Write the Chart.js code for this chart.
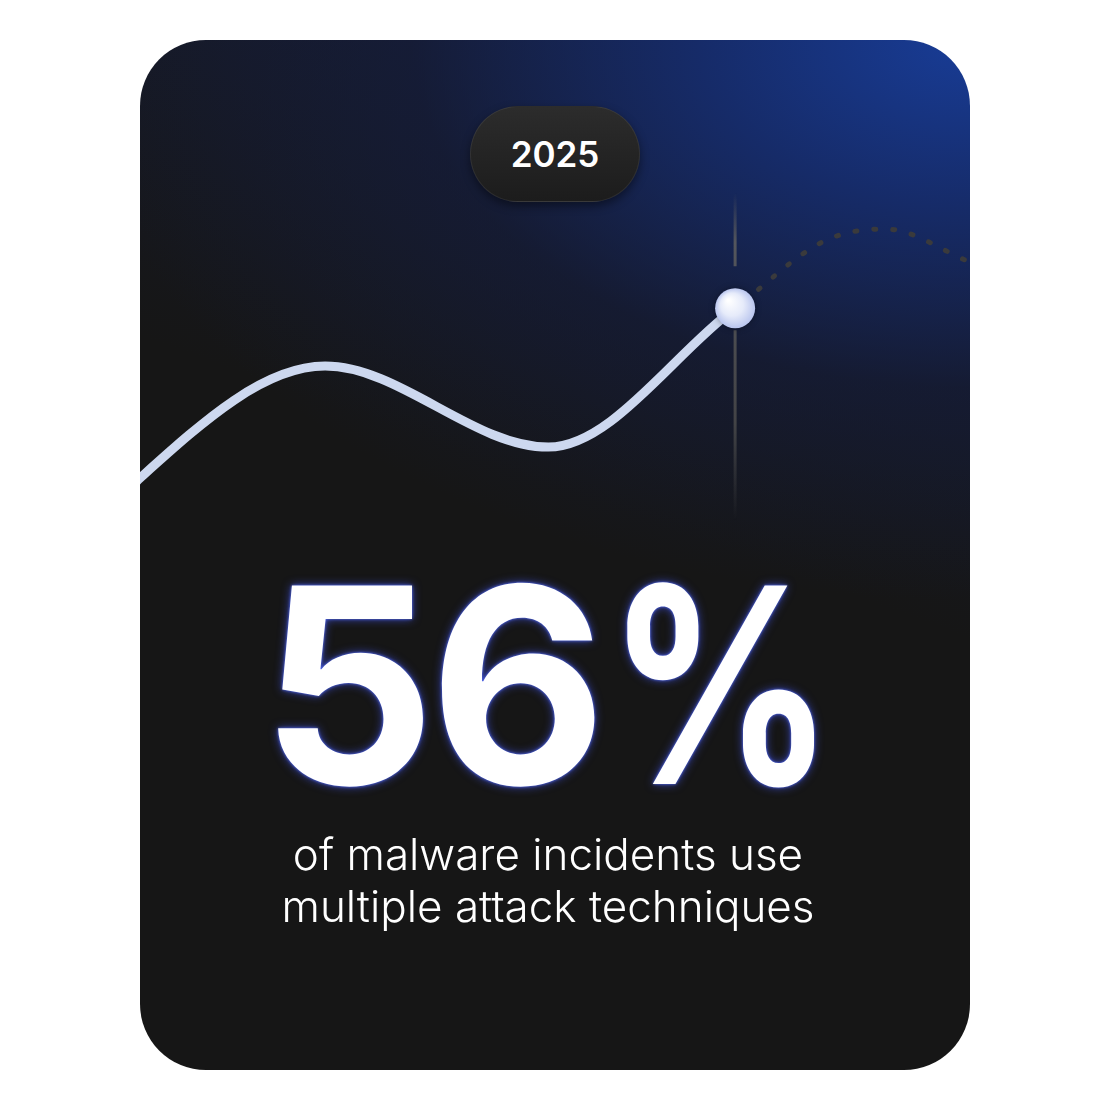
<!DOCTYPE html>
<html>
<head>
<meta charset="utf-8">
<script src="https://cdn.jsdelivr.net/npm/chart.js@4"></script>
<style>
  html, body { margin: 0; padding: 0; background: #fff; }
  body { width: 1110px; height: 1110px; position: relative; font-family: "Inter", "Noto Sans", sans-serif; }
  .card {
    position: absolute; left: 140px; top: 40px; width: 830px; height: 1030px;
    border-radius: 66px; overflow: hidden;
    background:
      radial-gradient(ellipse 900px 560px at 100% 0%, rgba(24,60,150,1) 0%, rgba(22,46,115,0.85) 30%, rgba(20,30,70,0.45) 62%, rgba(22,22,22,0) 100%),
      linear-gradient(200deg, rgba(22,32,70,0.6) 0%, rgba(22,22,22,0) 45%),
      #161616;
  }
  .pill {
    position: absolute; left: 330px; top: 66px; width: 170px; height: 96px;
    border-radius: 48px; box-sizing: border-box;
    background: linear-gradient(180deg, #2c2c2c 0%, #1c1c1c 100%);
    border: 1px solid rgba(255,255,255,0.07);
    box-shadow: 0 4px 10px rgba(0,0,0,0.45);
    color: #fff; font-weight: 600; font-size: 35px;
    display: flex; align-items: center; justify-content: center;
  }
  .plot { position: absolute; left: 0; top: 140px; width: 830px; height: 360px; }
  .big {
    position: absolute; left: -7px; width: 830px; top: 475px; text-align: center;
    color: #fff; font-weight: 700; font-size: 273px; line-height: 340px; letter-spacing: -6px;
    text-shadow: 0 0 3px #5b74ff, 0 0 10px rgba(70,90,255,0.7);
    white-space: nowrap;
  }
  .big .pct { display: inline-block; transform: scaleX(0.82); transform-origin: 0 50%; margin-left: 6px; margin-right: -43px; }
  .sub {
    position: absolute; left: -7px; width: 830px; top: 788px; text-align: center;
    color: #fff; font-weight: 300; font-size: 44px; line-height: 52px;
  }
</style>
</head>
<body>
<div class="card">
  <div class="pill">2025</div>
  <div class="plot"><canvas id="trend"></canvas></div>
  <div class="big">56<span class="pct">%</span></div>
  <div class="sub">of malware incidents use<br>multiple attack techniques</div>
</div>
<script>
// values (x = position along period, y = share);
// the first trend point sits just left of the card edge, where the line is cut off
const TREND_X    = [-2.4, 0, 22.3, 49.2, 71.7];
const TREND_Y    = [10.6, 17.2, 48.3, 25.8, 64.4];
const FORECAST_X = [71.7, 82.5, 89.8, 100];
const FORECAST_Y = [64.4, 83.1, 86.4, 77.2];

const toPts = (xs, ys) => xs.map((x, i) => ({ x, y: ys[i] }));

// faded vertical marker through the current point + the glossy knob
const markerPlugin = {
  id: "marker",
  beforeDatasetsDraw(chart) {
    const p = chart.getDatasetMeta(0).data.at(-1);
    if (!p) return;
    const { ctx } = chart;
    const top = p.y - 115, bottom = p.y + 212;
    const g = ctx.createLinearGradient(0, top, 0, bottom);
    g.addColorStop(0, "rgba(95,95,95,0)");
    g.addColorStop(0.15, "rgba(95,95,95,0.85)");
    g.addColorStop(0.7, "rgba(75,75,75,0.85)");
    g.addColorStop(1, "rgba(75,75,75,0)");
    ctx.save();
    ctx.strokeStyle = g;
    ctx.lineWidth = 3;
    ctx.beginPath();
    ctx.moveTo(p.x, top);      ctx.lineTo(p.x, p.y - 42);
    ctx.moveTo(p.x, p.y + 22); ctx.lineTo(p.x, bottom);
    ctx.stroke();
    ctx.restore();
  },
  afterDatasetsDraw(chart) {
    const p = chart.getDatasetMeta(0).data.at(-1);
    if (!p) return;
    const { ctx } = chart;
    const r = 20;
    const g = ctx.createRadialGradient(p.x - 7, p.y - 8, 1, p.x, p.y, r);
    g.addColorStop(0, "#ffffff");
    g.addColorStop(0.55, "#e6ebfa");
    g.addColorStop(1, "#b9c5ee");
    ctx.save();
    ctx.shadowColor = "rgba(0,0,0,0.35)";
    ctx.shadowBlur = 6;
    ctx.fillStyle = g;
    ctx.beginPath();
    ctx.arc(p.x, p.y, r, 0, Math.PI * 2);
    ctx.fill();
    ctx.restore();
  },
};

new Chart(document.getElementById("trend"), {
  type: "line",
  data: {
    datasets: [
      {
        data: toPts(TREND_X, TREND_Y),
        borderColor: "#cdd8ef",
        borderWidth: 9,
        borderCapStyle: "round",
        borderJoinStyle: "round",
        cubicInterpolationMode: "monotone",
        pointRadius: 0,
      },
      {
        data: toPts(FORECAST_X, FORECAST_Y),
        borderColor: "#3a3a3c",
        borderWidth: 5,
        borderCapStyle: "round",
        borderDash: [2, 17],
        borderDashOffset: -30,
        cubicInterpolationMode: "monotone",
        pointRadius: 0,
      },
    ],
  },
  options: {
    responsive: true,
    maintainAspectRatio: false,
    animation: false,
    layout: { padding: 0 },
    plugins: { legend: { display: false }, tooltip: { enabled: false } },
    scales: {
      x: { type: "linear", min: 0, max: 100, display: false },
      y: { min: 0, max: 100, display: false },
    },
  },
  plugins: [markerPlugin],
});
</script>
</body>
</html>
